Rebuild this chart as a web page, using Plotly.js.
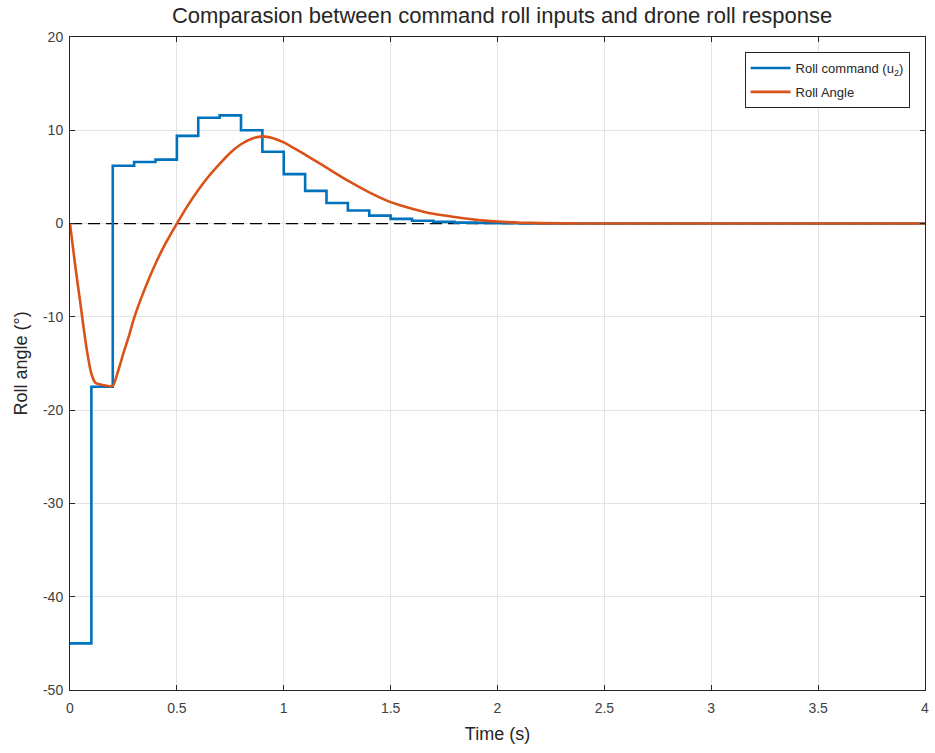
<!DOCTYPE html>
<html>
<head>
<meta charset="utf-8">
<script src="https://cdn.plot.ly/plotly-3.0.1.min.js"></script>
<style>html,body{margin:0;padding:0;background:#fff;}#chart{width:935px;height:753px;}</style>
</head>
<body>
<div id="chart"></div>
<script>
// Roll command (u2): piecewise constant, sampled every 0.1 s
const cmdTime = [0, 0.1, 0.2, 0.3, 0.4, 0.5, 0.6, 0.7, 0.8, 0.9, 1.0, 1.1, 1.2, 1.3, 1.4, 1.5, 1.6, 1.7, 1.8, 1.9, 2.0, 2.1, 2.2, 2.3, 4.0];
const cmdRoll = [-45, -17.5, 6.2, 6.6, 6.85, 9.4, 11.35, 11.6, 10.0, 7.7, 5.3, 3.5, 2.2, 1.4, 0.85, 0.5, 0.3, 0.18, 0.1, 0.06, 0.03, 0.02, 0.01, 0, 0];

// Drone roll angle response
const angTime = [0, 0.025, 0.05, 0.075, 0.1, 0.12, 0.15, 0.2, 0.22, 0.25, 0.275, 0.3, 0.35, 0.4, 0.45, 0.5, 0.55, 0.6, 0.65, 0.7, 0.75, 0.8, 0.85, 0.9, 0.95, 1.0, 1.05, 1.1, 1.15, 1.2, 1.3, 1.4, 1.5, 1.6, 1.7, 1.8, 1.9, 2.0, 2.1, 2.2, 2.4, 2.6, 4.0];
const angRoll = [0, -4.6, -8.8, -13.0, -16.1, -17.1, -17.3, -17.4, -16.2, -13.9, -12.1, -10.1, -7.0, -4.3, -2.0, 0.0, 1.9, 3.6, 5.1, 6.4, 7.6, 8.5, 9.1, 9.35, 9.15, 8.7, 8.05, 7.4, 6.7, 6.0, 4.6, 3.35, 2.3, 1.6, 1.05, 0.7, 0.4, 0.22, 0.1, 0.05, 0.01, 0, 0];

// Zero reference line
const refTime = [0, 4];
const refRoll = [0, 0];

const xTicks = [0, 0.5, 1, 1.5, 2, 2.5, 3, 3.5, 4];
const xTickText = ['0', '0.5', '1', '1.5', '2', '2.5', '3', '3.5', '4'];
const yTicks = [-50, -40, -30, -20, -10, 0, 10, 20];
const yTickText = ['-50', '-40', '-30', '-20', '-10', '0', '10', '20'];

const FONT = 'Liberation Sans, Arial, Helvetica, sans-serif';

const traces = [
  {x: refTime, y: refRoll, mode: 'lines', showlegend: false, hoverinfo: 'skip',
   line: {color: '#000000', width: 1.3, dash: '12px,6px'}},
  {x: cmdTime, y: cmdRoll, mode: 'lines', name: 'Roll command (u<sub>2</sub>)', legendgroup: 'a',
   line: {color: '#0072BD', width: 2.6, shape: 'hv'}},
  {x: angTime, y: angRoll, mode: 'lines', name: 'Roll Angle', legendgroup: 'b',
   line: {color: '#D95319', width: 2.6, shape: 'spline', smoothing: 0.6}}
];

const axisCommon = {
  showline: true, linecolor: '#262626', linewidth: 1, mirror: 'ticks',
  ticks: 'inside', ticklen: 5, tickcolor: '#262626',
  showgrid: true, gridcolor: '#e3e3e3', gridwidth: 1, zeroline: false,
  tickfont: {family: FONT, size: 14, color: '#404040'}
};

const layout = {
  width: 935, height: 753,
  margin: {l: 70, r: 10, t: 37, b: 63},
  paper_bgcolor: '#ffffff', plot_bgcolor: '#ffffff',
  font: {family: FONT, color: '#262626'},
  title: {text: 'Comparasion between command roll inputs and drone roll response',
          font: {family: FONT, size: 22, color: '#262626'},
          x: 0.537, xanchor: 'center', y: 0.99, yanchor: 'top'},
  xaxis: Object.assign({}, axisCommon, {
    range: [0, 4], tickvals: xTicks, ticktext: xTickText, ticklabelstandoff: 5,
    title: {text: 'Time (s)', font: {family: FONT, size: 18, color: '#262626'}, standoff: 12}
  }),
  yaxis: Object.assign({}, axisCommon, {
    range: [-50, 20], tickvals: yTicks, ticktext: yTickText, ticklabelstandoff: 3,
    title: {text: 'Roll angle (°)', font: {family: FONT, size: 18, color: '#262626'}, standoff: 10}
  }),
  legend: {
    x: 0.982, xanchor: 'right', y: 0.977, yanchor: 'top',
    bgcolor: '#ffffff', bordercolor: '#262626', borderwidth: 1,
    font: {family: FONT, size: 13, color: '#262626'},
    tracegroupgap: 4, itemwidth: 40
  },
  showlegend: true
};

Plotly.newPlot('chart', traces, layout, {displayModeBar: false, staticPlot: true});
</script>
</body>
</html>
